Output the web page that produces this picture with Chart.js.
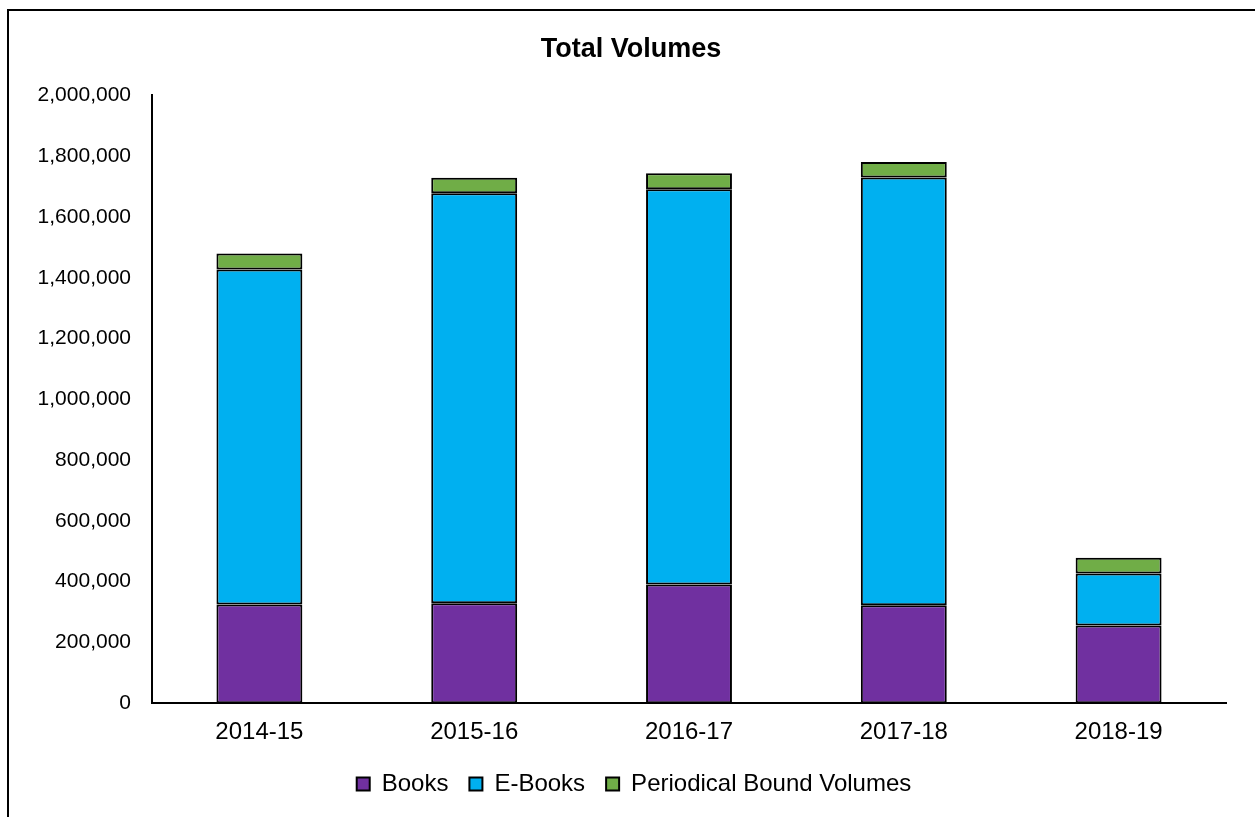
<!DOCTYPE html>
<html lang="en">
<head>
    <meta charset="UTF-8">
    <title>Total Volumes</title>
    <script src="https://cdn.jsdelivr.net/npm/chart.js"></script>
    <style>
        html, body { margin: 0; padding: 0; background: #fff; overflow: hidden; }
        .frame {
            position: absolute;
            left: 7px; top: 9px;
            width: 2000px; height: 2000px;
            border-left: 2px solid #000;
            border-top: 2px solid #000;
        }
        .wrap { position: absolute; left: 0; top: 0; width: 1255px; height: 817px; }
    </style>
</head>
<body>
    <div class="frame"></div>
    <div class="wrap"><canvas id="volChart" width="1255" height="817"></canvas></div>

    <script>
        // Data
        const years = ['2014-15', '2015-16', '2016-17', '2017-18', '2018-19'];
        const books = [325000, 329000, 391000, 322000, 256000];
        const eBooks = [1102000, 1349000, 1300000, 1408000, 171000];
        const periodicals = [53000, 51000, 53000, 51000, 52000];

        const fontFamily = '"Liberation Sans", Arial, sans-serif';
        Chart.defaults.font.family = fontFamily;
        Chart.defaults.color = '#000';

        function makeSet(label, data, colour) {
            return {
                label: label,
                data: data,
                backgroundColor: colour,
                borderColor: '#000',
                borderWidth: 2,
                borderSkipped: false,
                categoryPercentage: 1.0,
                barPercentage: 0.4
            };
        }

        // pull the legend a bit closer to the axis labels
        const legendNudge = {
            id: 'legendNudge',
            afterLayout(chart) {
                if (chart.legend) {
                    chart.legend.top -= 11;
                    chart.legend.bottom -= 11;
                    chart.legend.left += 3;
                    chart.legend.right += 3;
                }
            }
        };

        new Chart(document.getElementById('volChart'), {
            type: 'bar',
            data: {
                labels: years,
                datasets: [
                    makeSet('Books', books, '#7030A0'),
                    makeSet('E-Books', eBooks, '#00B0F0'),
                    makeSet('Periodical Bound Volumes', periodicals, '#70AD47')
                ]
            },
            options: {
                responsive: false,
                animation: false,
                layout: { padding: { left: 36, right: 29, top: 0, bottom: 0 } },
                plugins: {
                    title: {
                        display: true,
                        text: 'Total Volumes',
                        font: { size: 27, weight: 'bold' },
                        padding: { top: 33, bottom: 30 }
                    },
                    legend: {
                        position: 'bottom',
                        labels: {
                            font: { size: 24 },
                            boxWidth: 13,
                            boxHeight: 13,
                            padding: 21
                        }
                    },
                    tooltip: { enabled: false }
                },
                scales: {
                    x: {
                        stacked: true,
                        grid: { display: false, drawTicks: false },
                        border: { display: true, color: '#000', width: 2 },
                        ticks: { font: { size: 24 }, padding: 15 }
                    },
                    y: {
                        stacked: true,
                        min: 0,
                        max: 2000000,
                        grid: { display: false, drawTicks: false },
                        border: { display: true, color: '#000', width: 2 },
                        ticks: {
                            stepSize: 200000,
                            font: { size: 21 },
                            padding: 21,
                            callback: v => v.toLocaleString('en-US')
                        },
                        afterFit: scale => { scale.width = 116; }
                    }
                }
            },
            plugins: [legendNudge]
        });
    </script>
</body>
</html>
